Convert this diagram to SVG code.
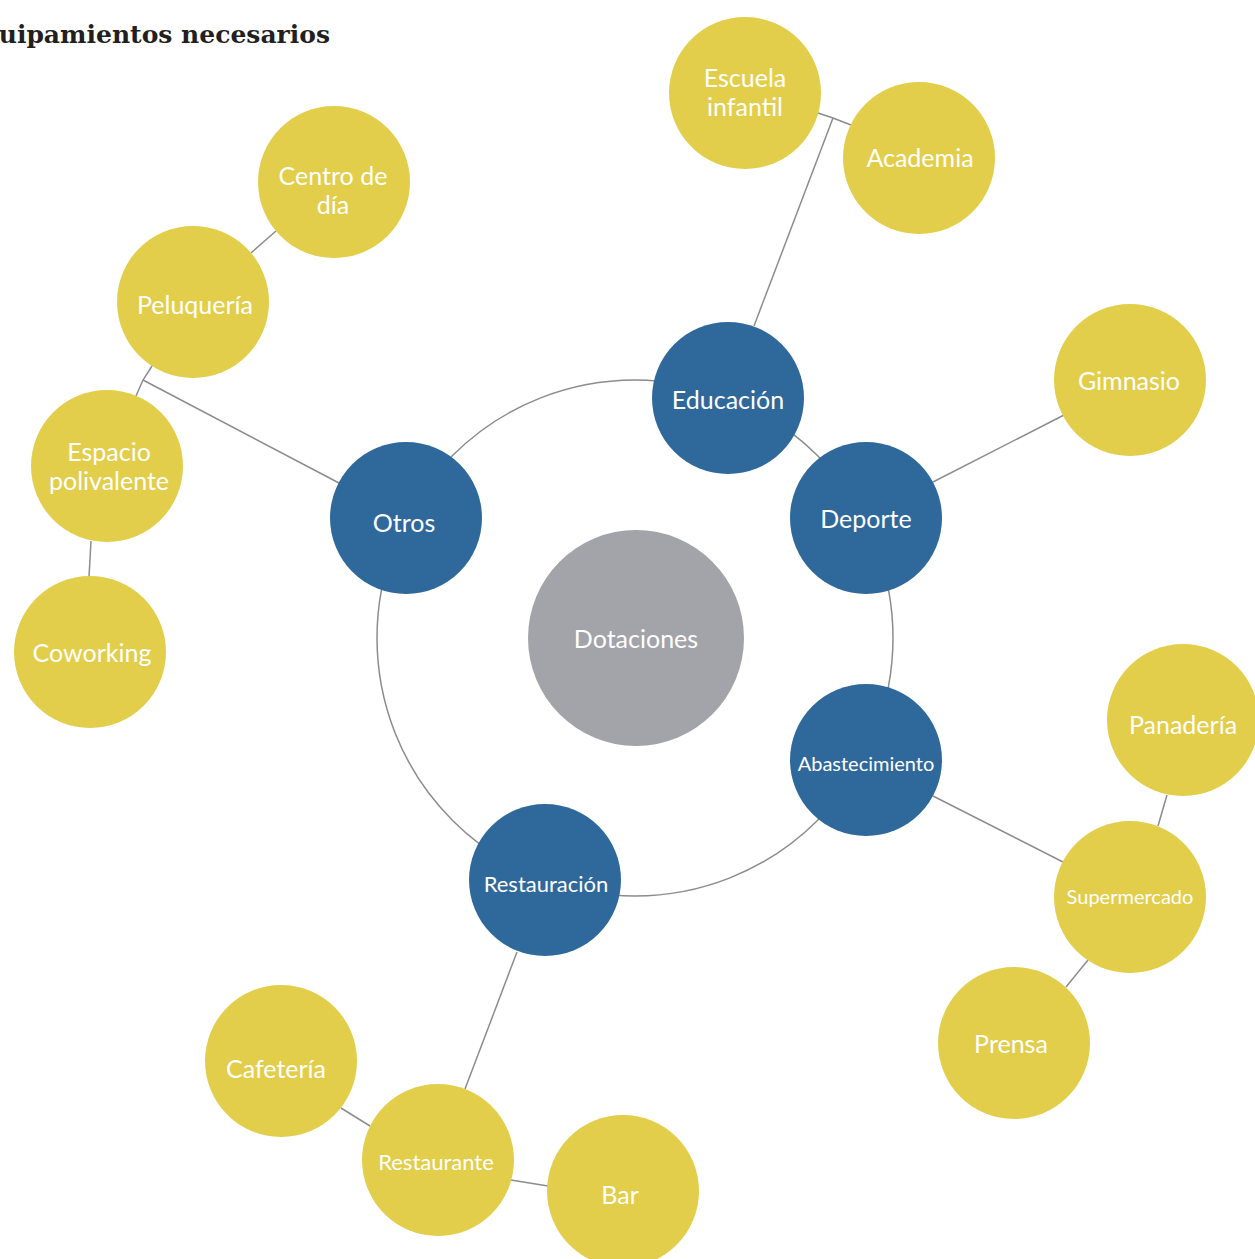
<svg xmlns="http://www.w3.org/2000/svg" width="1255" height="1259" viewBox="0 0 1255 1259">
<style>
.y{fill:#E2CE4B}
.b{fill:#2F689B}
.g{fill:#A3A3AA}
.t{fill:#ffffff;font-family:Lato,"Noto Sans",sans-serif;text-anchor:middle;dominant-baseline:central;font-size:25px}
.s{font-size:20px}
.m{font-size:22px}
.c{stroke:#8C8C8C;stroke-width:1.5;fill:none}
.title{font-family:"DejaVu Serif","Liberation Serif",serif;font-weight:bold;font-size:25px;fill:#231F20}
</style>
<rect width="1255" height="1259" fill="#ffffff"/>
<text class="title" x="330" y="43" text-anchor="end">Equipamientos necesarios</text>
<g id="connectors">
<circle class="c" cx="635" cy="638" r="258"/>
<polyline class="c" points="818,113 833,118 851,125"/>
<line class="c" x1="833" y1="118" x2="754" y2="326"/>
<line class="c" x1="933" y1="482" x2="1064" y2="415"/>
<line class="c" x1="276" y1="231" x2="251" y2="253"/>
<polyline class="c" points="152,366 143,380 136,396"/>
<line class="c" x1="143" y1="380" x2="339" y2="483"/>
<line class="c" x1="91" y1="541" x2="89" y2="577"/>
<line class="c" x1="933" y1="796" x2="1063" y2="862"/>
<line class="c" x1="1158" y1="826" x2="1167" y2="795"/>
<line class="c" x1="1088" y1="960" x2="1066" y2="987"/>
<line class="c" x1="517" y1="952" x2="465" y2="1089"/>
<line class="c" x1="341" y1="1108" x2="370" y2="1126"/>
<line class="c" x1="511" y1="1180" x2="548" y2="1186"/>
</g>
<g id="dotaciones"><circle class="g" cx="636" cy="638" r="108"/><text class="t" x="636" y="638">Dotaciones</text></g>
<g id="educacion"><circle class="b" cx="728" cy="398" r="76"/><text class="t" x="728" y="399">Educación</text></g>
<g id="deporte"><circle class="b" cx="866" cy="518" r="76"/><text class="t" x="866" y="518">Deporte</text></g>
<g id="otros"><circle class="b" cx="406" cy="518" r="76"/><text class="t" x="404" y="522">Otros</text></g>
<g id="abastecimiento"><circle class="b" cx="866" cy="760" r="76"/><text class="t s" x="866" y="763">Abastecimiento</text></g>
<g id="restauracion"><circle class="b" cx="545" cy="880" r="76"/><text class="t m" x="546" y="883">Restauración</text></g>
<g id="escuela"><circle class="y" cx="745" cy="93" r="76"/><text class="t" x="745" y="77">Escuela</text><text class="t" x="745" y="106">infantil</text></g>
<g id="academia"><circle class="y" cx="919" cy="158" r="76"/><text class="t" x="920" y="157">Academia</text></g>
<g id="gimnasio"><circle class="y" cx="1130" cy="380" r="76"/><text class="t" x="1129" y="380">Gimnasio</text></g>
<g id="centro"><circle class="y" cx="334" cy="182" r="76"/><text class="t" x="333" y="175">Centro de</text><text class="t" x="333" y="204">día</text></g>
<g id="peluqueria"><circle class="y" cx="193" cy="302" r="76"/><text class="t" x="195" y="304">Peluquería</text></g>
<g id="espacio"><circle class="y" cx="107" cy="466" r="76"/><text class="t" x="109" y="451">Espacio</text><text class="t" x="109" y="480">polivalente</text></g>
<g id="coworking"><circle class="y" cx="90" cy="652" r="76"/><text class="t" x="92" y="652">Coworking</text></g>
<g id="panaderia"><circle class="y" cx="1183" cy="720" r="76"/><text class="t" x="1183" y="724">Panadería</text></g>
<g id="supermercado"><circle class="y" cx="1130" cy="897" r="76"/><text class="t s" x="1130" y="896">Supermercado</text></g>
<g id="prensa"><circle class="y" cx="1014" cy="1043" r="76"/><text class="t" x="1011" y="1043">Prensa</text></g>
<g id="cafeteria"><circle class="y" cx="281" cy="1061" r="76"/><text class="t" x="276" y="1068">Cafetería</text></g>
<g id="restaurante"><circle class="y" cx="438" cy="1160" r="76"/><text class="t m" x="436" y="1161">Restaurante</text></g>
<g id="bar"><circle class="y" cx="623" cy="1191" r="76"/><text class="t" x="620" y="1194">Bar</text></g>
</svg>
